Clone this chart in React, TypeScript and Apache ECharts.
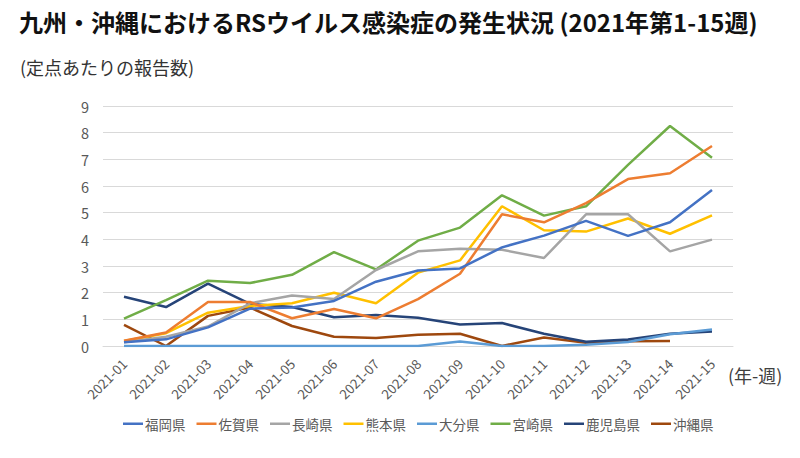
import React, { useEffect, useRef } from "react";
import * as echarts from "echarts";

const categories = [
  "2021-01", "2021-02", "2021-03", "2021-04", "2021-05", "2021-06", "2021-07", "2021-08",
  "2021-09", "2021-10", "2021-11", "2021-12", "2021-13", "2021-14", "2021-15",
];

const fukuoka = [0.14, 0.25, 0.7, 1.4, 1.44, 1.69, 2.41, 2.83, 2.91, 3.7, 4.14, 4.69, 4.13, 4.64, 5.85];
const saga = [0.2, 0.51, 1.65, 1.65, 1.04, 1.39, 1.04, 1.76, 2.71, 4.94, 4.64, 5.36, 6.26, 6.48, 7.5];
const nagasaki = [0.14, 0.35, 0.73, 1.6, 1.89, 1.76, 2.85, 3.55, 3.65, 3.61, 3.3, 4.94, 4.94, 3.55, 3.99];
const kumamoto = [0.19, 0.48, 1.25, 1.5, 1.6, 2.0, 1.6, 2.75, 3.21, 5.24, 4.34, 4.29, 4.78, 4.21, 4.9];
const oita = [0, 0, 0, 0, 0, 0, 0, 0, 0.17, 0, 0, 0.05, 0.15, 0.44, 0.62];
const miyazaki = [1.03, 1.72, 2.45, 2.36, 2.67, 3.52, 2.87, 3.95, 4.44, 5.65, 4.89, 5.24, 6.79, 8.25, 7.06];
const kagoshima = [1.85, 1.46, 2.34, 1.58, 1.46, 1.08, 1.16, 1.06, 0.81, 0.86, 0.46, 0.16, 0.24, 0.46, 0.54];
const okinawa = [0.79, 0, 1.13, 1.44, 0.75, 0.35, 0.3, 0.42, 0.46, 0, 0.32, 0.12, 0.18, 0.19, null];

const seriesNames = ["福岡県", "佐賀県", "長崎県", "熊本県", "大分県", "宮崎県", "鹿児島県", "沖縄県"];
const seriesData = [fukuoka, saga, nagasaki, kumamoto, oita, miyazaki, kagoshima, okinawa];
const colors = ["#4472C4", "#ED7D31", "#A5A5A5", "#FFC000", "#5B9BD5", "#70AD47", "#264478", "#9E480E"];

const yTicks = [0, 1, 2, 3, 4, 5, 6, 7, 8, 9];

const FONT = "'Noto Sans CJK JP', 'Noto Sans', sans-serif";

export default function App() {
  const ref = useRef<HTMLDivElement>(null);
  useEffect(() => {
    if (!ref.current) return;
    const chart = echarts.init(ref.current, undefined, { renderer: "svg" });
    chart.setOption({
      animation: false,
      backgroundColor: "#ffffff",
      textStyle: { fontFamily: FONT },
      color: colors,
      title: [
        {
          text: "九州・沖縄におけるRSウイルス感染症の発生状況 (2021年第1-15週)",
          left: 14,
          top: 4,
          textStyle: { fontFamily: FONT, fontSize: 24, fontWeight: "bold", color: "#111111" },
        },
        {
          text: "(定点あたりの報告数)",
          left: 15,
          top: 53,
          textStyle: { fontFamily: FONT, fontSize: 18, fontWeight: "normal", color: "#333333" },
        },
      ],
      graphic: [
        {
          type: "text",
          left: 728,
          top: 366,
          style: { text: "(年-週)", fontFamily: FONT, fontSize: 18, fill: "#404040" },
        },
      ],
      legend: {
        top: 412,
        left: 118,
        icon: "rect",
        itemWidth: 20,
        itemHeight: 2.5,
        itemGap: 11,
        textStyle: { fontFamily: FONT, fontSize: 13.5, color: "#595959", padding: [0, 0, 0, -3] },
        data: seriesNames,
      },
      grid: { left: 103, right: 67, top: 106, bottom: 112, containLabel: false },
      xAxis: {
        type: "category",
        data: categories,
        boundaryGap: true,
        axisLine: { show: true, lineStyle: { color: "#d9d9d9", width: 1 } },
        axisTick: { show: false },
        axisLabel: {
          rotate: 45,
          color: "#595959",
          fontSize: 13.5,
          fontFamily: FONT,
          margin: 15,
          interval: 0,
        },
      },
      yAxis: {
        type: "value",
        min: 0,
        max: 9,
        interval: 1,
        axisLine: { show: false },
        axisTick: { show: false },
        splitLine: { lineStyle: { color: "#d9d9d9", width: 1 } },
        axisLabel: {
          color: "#595959",
          fontSize: 14.5,
          fontFamily: FONT,
          margin: 14,
          formatter: (v: number) => (yTicks.includes(v) ? String(v) : ""),
        },
      },
      series: seriesNames.map((name, i) => ({
        name,
        type: "line",
        data: seriesData[i],
        symbol: "none",
        showSymbol: false,
        connectNulls: false,
        lineStyle: { width: 2.5, color: colors[i] },
        itemStyle: { color: colors[i] },
        z: 10 - i,
      })),
    });
    return () => chart.dispose();
  }, []);
  return (
    <div
      ref={ref}
      style={{ position: "absolute", left: 0, top: 0, width: 800, height: 458 }}
    />
  );
}
